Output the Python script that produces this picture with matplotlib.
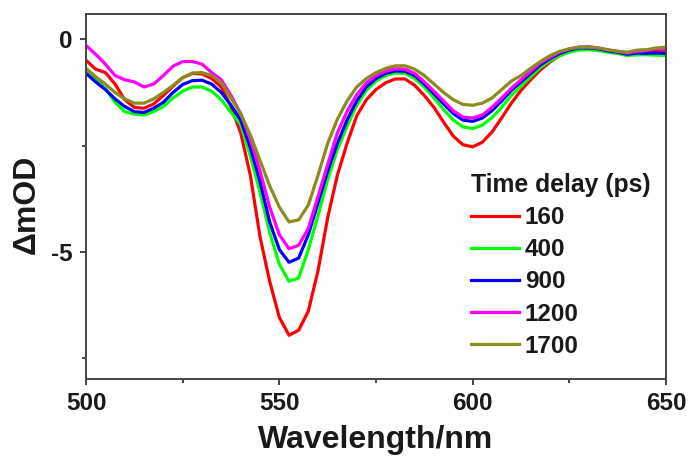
import matplotlib
matplotlib.use("Agg")
import matplotlib.pyplot as plt
from matplotlib.ticker import MultipleLocator

plt.rcParams['font.family'] = ['Liberation Sans', 'DejaVu Sans']
plt.rcParams['font.weight'] = 'bold'
plt.rcParams['axes.unicode_minus'] = False

# wavelength grid (nm), 2.5 nm steps
wavelength = [500 + 2.5 * i for i in range(61)]

# delta mOD, one list per time delay
d160 = [-0.49, -0.70, -0.78, -1.05, -1.42, -1.60, -1.62, -1.52, -1.32, -1.10,
        -0.90, -0.80, -0.81, -0.92, -1.12, -1.58, -2.20, -3.20, -4.65, -5.70,
        -6.55, -6.97, -6.85, -6.40, -5.45, -4.20, -3.20, -2.45, -1.80, -1.42,
        -1.18, -1.02, -0.93, -0.93, -1.08, -1.32, -1.60, -1.95, -2.28, -2.48,
        -2.53, -2.42, -2.18, -1.85, -1.50, -1.20, -0.95, -0.72, -0.53, -0.38,
        -0.28, -0.22, -0.20, -0.22, -0.28, -0.32, -0.35, -0.32, -0.28, -0.26,
        -0.25]
d400 = [-0.77, -0.95, -1.15, -1.48, -1.70, -1.76, -1.78, -1.70, -1.58, -1.38,
        -1.22, -1.12, -1.12, -1.22, -1.42, -1.72, -2.00, -2.75, -3.60, -4.55,
        -5.30, -5.70, -5.62, -4.95, -4.15, -3.30, -2.60, -2.05, -1.55, -1.20,
        -0.98, -0.85, -0.79, -0.80, -0.92, -1.12, -1.38, -1.65, -1.90, -2.06,
        -2.10, -2.02, -1.84, -1.60, -1.32, -1.10, -0.88, -0.66, -0.50, -0.38,
        -0.30, -0.25, -0.24, -0.26, -0.30, -0.33, -0.38, -0.36, -0.36, -0.37,
        -0.38]
d900 = [-0.80, -1.00, -1.18, -1.40, -1.58, -1.70, -1.72, -1.62, -1.48, -1.25,
        -1.06, -0.97, -0.96, -1.05, -1.25, -1.55, -1.90, -2.55, -3.35, -4.30,
        -4.95, -5.25, -5.15, -4.60, -3.85, -3.10, -2.45, -1.90, -1.45, -1.12,
        -0.92, -0.80, -0.74, -0.75, -0.85, -1.05, -1.28, -1.52, -1.75, -1.90,
        -1.93, -1.85, -1.68, -1.45, -1.20, -1.00, -0.80, -0.60, -0.45, -0.33,
        -0.25, -0.20, -0.20, -0.22, -0.27, -0.30, -0.35, -0.32, -0.33, -0.32,
        -0.33]
d1200 = [-0.14, -0.35, -0.58, -0.85, -0.95, -1.00, -1.12, -1.05, -0.85, -0.63,
         -0.52, -0.52, -0.58, -0.78, -0.95, -1.32, -1.75, -2.35, -3.10, -3.95,
         -4.60, -4.93, -4.85, -4.45, -3.70, -2.95, -2.20, -1.70, -1.30, -1.02,
         -0.85, -0.75, -0.69, -0.70, -0.80, -1.00, -1.22, -1.45, -1.68, -1.83,
         -1.85, -1.78, -1.60, -1.38, -1.15, -0.95, -0.75, -0.55, -0.42, -0.30,
         -0.22, -0.18, -0.17, -0.20, -0.25, -0.28, -0.32, -0.28, -0.26, -0.22,
         -0.22]
d1700 = [-0.68, -0.88, -1.05, -1.25, -1.40, -1.50, -1.50, -1.40, -1.25, -1.08,
         -0.90, -0.79, -0.78, -0.85, -1.02, -1.38, -1.75, -2.25, -2.85, -3.45,
         -3.95, -4.30, -4.25, -3.90, -3.20, -2.45, -1.88, -1.45, -1.12, -0.92,
         -0.78, -0.68, -0.62, -0.62, -0.70, -0.85, -1.05, -1.25, -1.42, -1.53,
         -1.55, -1.50, -1.38, -1.18, -0.98, -0.85, -0.68, -0.52, -0.38, -0.28,
         -0.22, -0.18, -0.18, -0.20, -0.24, -0.28, -0.30, -0.25, -0.24, -0.20,
         -0.18]

labels = ['160', '400', '900', '1200', '1700']
series = [d160, d400, d900, d1200, d1700]
colors = ['#ff0000', '#00ff00', '#0000ff', '#ff00ff', '#8b8b1e']

fig = plt.figure(figsize=(6.91, 4.58), dpi=100)
ax = fig.add_axes([0.1245, 0.1725, 0.8393, 0.7969])

for y, lab, c in zip(series, labels, colors):
    ax.plot(wavelength, y, color=c, lw=2.3, label=lab)

ax.set_xlim(500, 650)
ax.set_ylim(-8, 0.6)
ax.xaxis.set_major_locator(MultipleLocator(50))
ax.xaxis.set_minor_locator(MultipleLocator(25))
ax.yaxis.set_major_locator(MultipleLocator(5))
ax.yaxis.set_minor_locator(MultipleLocator(2.5))

for s in ax.spines.values():
    s.set_color('#444444')
    s.set_linewidth(1.4)
ax.tick_params(which='both', direction='out', color='#444444', width=1.4,
               labelsize=17.5, labelcolor='#1a1a1a')
ax.tick_params(which='major', length=4.5, pad=5)
ax.tick_params(which='minor', length=3)

ax.set_xlabel('Wavelength/nm', fontsize=23, fontweight='bold', color='#1a1a1a', labelpad=7)
ax.set_ylabel('ΔmOD', fontsize=23, fontweight='bold', color='#1a1a1a')
ax.yaxis.set_label_coords(-0.076, 0.478)

leg = ax.legend(title='Time delay (ps)', loc='upper left',
                bbox_to_anchor=(0.663, 0.565), frameon=False,
                fontsize=17.5, title_fontproperties={'size': 17.8, 'weight': 'bold'},
                handlelength=2.0, handletextpad=0.23, labelspacing=0.38,
                borderpad=0, borderaxespad=0, alignment='left')
for line in leg.get_lines():
    line.set_linewidth(2.3)
for t in leg.get_texts():
    t.set_color('#1a1a1a')
leg.get_title().set_color('#1a1a1a')

fig.savefig('out.png', dpi=100)
